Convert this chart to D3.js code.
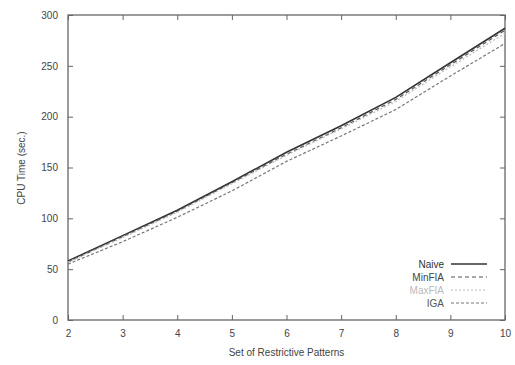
<!DOCTYPE html>
<html>
<head>
<meta charset="utf-8">
<script src="https://cdn.jsdelivr.net/npm/d3@7"></script>
<style>
  body { margin: 0; background: #fff; }
  #chart { width: 515px; height: 365px; }
  text { font-family: "Liberation Sans", Arial, sans-serif; fill: #444; }
</style>
</head>
<body>
<div id="chart"></div>
<script>
// DATA
const patterns = [2, 3, 4, 5, 6, 7, 8, 9, 10];
const naive  = [58, 83, 108, 136, 165, 191, 219, 253, 287];
const minFIA = [57, 82, 107, 135, 163, 189, 217, 251, 285];
const maxFIA = [57, 81, 106, 134, 162, 188, 215, 249, 282];
const iga    = [55, 77, 101, 127, 156, 181, 207, 240, 272];
const seriesNames = ["Naive", "MinFIA", "MaxFIA", "IGA"];
const xTicks = [2, 3, 4, 5, 6, 7, 8, 9, 10];
const yTicks = [0, 50, 100, 150, 200, 250, 300];

const width = 515, height = 365;
const margin = {top: 15, left: 68, right: 10, bottom: 45};

const svg = d3.select("#chart").append("svg")
    .attr("width", width)
    .attr("height", height);

// SCALES
const xScale = d3.scaleLinear().domain([2, 10]).range([margin.left, width - margin.right]);
const yScale = d3.scaleLinear().domain([0, 300]).range([height - margin.bottom, margin.top]);

const styles = [
    {stroke: "#333", dash: null, width: 1.6, label: "#333"},
    {stroke: "#555", dash: "4,3", width: 1.2, label: "#444"},
    {stroke: "#bbb", dash: "2,2", width: 1.2, label: "#bbb"},
    {stroke: "#777", dash: "3,2", width: 1.2, label: "#555"}
];
const allSeries = [naive, minFIA, maxFIA, iga];

// FRAME + TICKS
const axisColor = "#666";
svg.append("rect")
    .attr("x", margin.left).attr("y", margin.top)
    .attr("width", width - margin.left - margin.right)
    .attr("height", height - margin.top - margin.bottom)
    .attr("fill", "none").attr("stroke", axisColor).attr("stroke-width", 1.3);

const xb = svg.append("g").attr("transform", `translate(0,${height - margin.bottom})`)
    .call(d3.axisBottom(xScale).tickValues(xTicks).tickSizeInner(-5).tickSizeOuter(0).tickPadding(10));
const xt = svg.append("g").attr("transform", `translate(0,${margin.top})`)
    .call(d3.axisTop(xScale).tickValues(xTicks).tickSizeInner(-5).tickSizeOuter(0).tickFormat(""));
const yl = svg.append("g").attr("transform", `translate(${margin.left},0)`)
    .call(d3.axisLeft(yScale).tickValues(yTicks).tickSizeInner(-5).tickSizeOuter(0).tickPadding(10));
const yr = svg.append("g").attr("transform", `translate(${width - margin.right},0)`)
    .call(d3.axisRight(yScale).tickValues(yTicks).tickSizeInner(-5).tickSizeOuter(0).tickFormat(""));

[xb, xt, yl, yr].forEach(function(a) {
    a.select(".domain").remove();
    a.selectAll("line").attr("stroke", axisColor);
    a.selectAll("text").attr("fill", "#444").style("font-size", "10px")
        .style("font-family", "'Liberation Sans', Arial, sans-serif");
});

// LINES
const line = d3.line()
    .x(function(d, i) { return xScale(patterns[i]); })
    .y(function(d) { return yScale(d); });

allSeries.forEach(function(s, i) {
    svg.append("path")
        .datum(s)
        .attr("d", line)
        .attr("fill", "none")
        .attr("stroke", styles[i].stroke)
        .attr("stroke-width", styles[i].width)
        .attr("stroke-dasharray", styles[i].dash);
});

// LEGEND
const legend = svg.append("g");
seriesNames.forEach(function(name, i) {
    const y = 264 + i * 13;
    legend.append("text")
        .attr("x", 444).attr("y", y + 3.5)
        .attr("text-anchor", "end")
        .style("font-size", "10px")
        .style("fill", styles[i].label)
        .text(name);
    legend.append("line")
        .attr("x1", 451).attr("x2", 487)
        .attr("y1", y).attr("y2", y)
        .attr("stroke", styles[i].stroke)
        .attr("stroke-width", styles[i].width)
        .attr("stroke-dasharray", styles[i].dash);
});

// AXIS LABELS
svg.append("text")
    .attr("x", (margin.left + width - margin.right) / 2)
    .attr("y", 356)
    .attr("text-anchor", "middle")
    .style("font-size", "10px")
    .text("Set of Restrictive Patterns");

svg.append("text")
    .attr("transform", "rotate(-90)")
    .attr("x", -168)
    .attr("y", 25)
    .attr("text-anchor", "middle")
    .style("font-size", "10px")
    .text("CPU Time (sec.)");
</script>
</body>
</html>
